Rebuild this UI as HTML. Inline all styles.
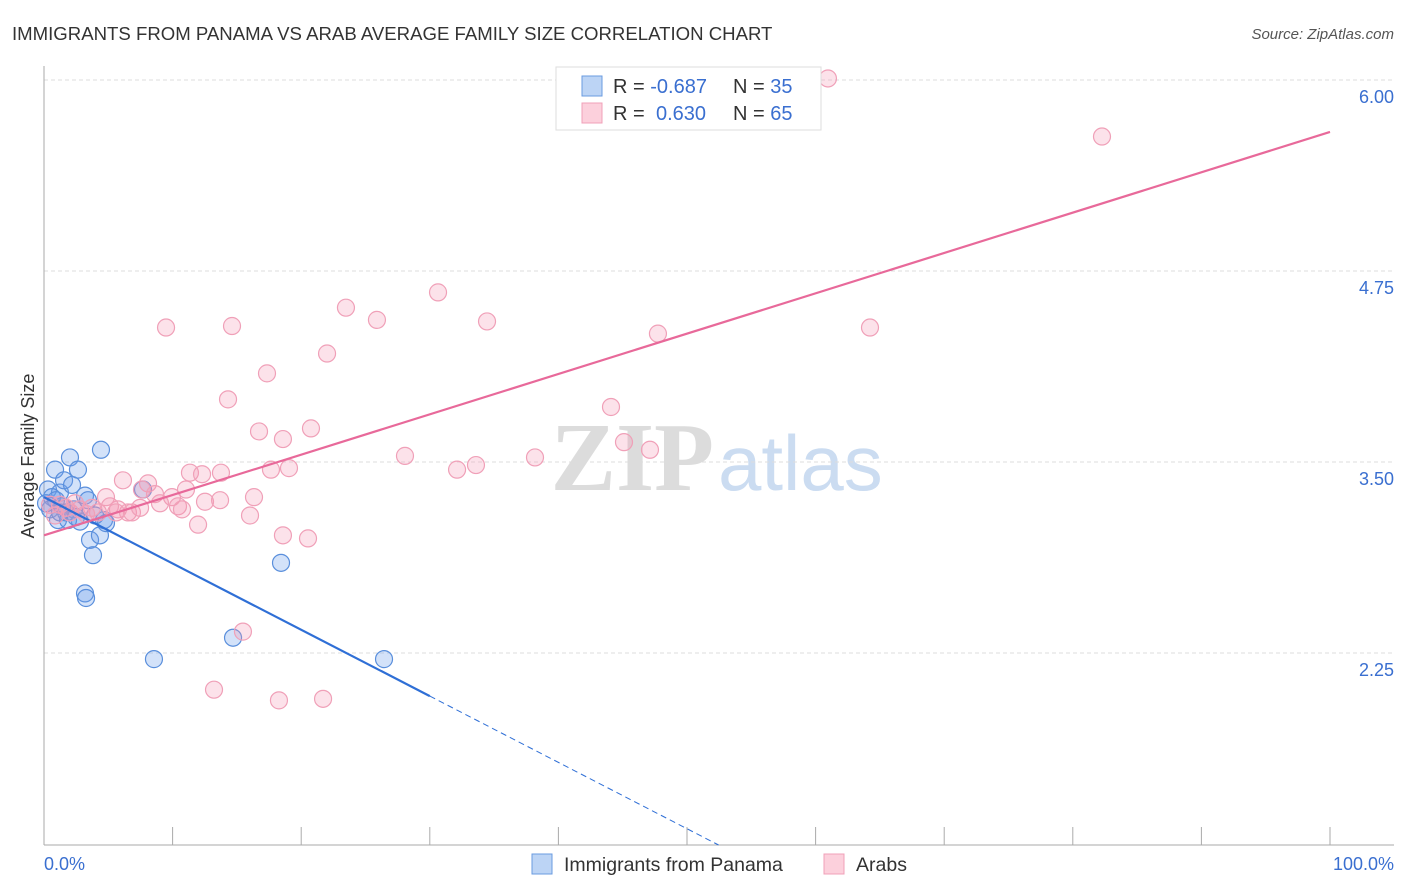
<!DOCTYPE html>
<html><head><meta charset="utf-8">
<style>
body{margin:0;background:#fff;font-family:"Liberation Sans",sans-serif;}
#wrap{position:relative;width:1406px;height:892px;overflow:hidden;}
</style></head>
<body>
<div id="wrap">
<svg id="svg" width="1406" height="892" xmlns="http://www.w3.org/2000/svg">
<text x="12" y="40" font-size="18.6" fill="#333">IMMIGRANTS FROM PANAMA VS ARAB AVERAGE FAMILY SIZE CORRELATION CHART</text>
<text x="1394" y="39" font-size="15" fill="#555" font-style="italic" text-anchor="end">Source: ZipAtlas.com</text>
<text x="714" y="490" font-size="98" fill="#dcdcdc" text-anchor="end" font-weight="bold" font-family="Liberation Serif,serif">ZIP</text>
<text x="718" y="490" font-size="78" fill="#cbdcf1">atlas</text>
<text transform="translate(34,456) rotate(-90)" font-size="18" fill="#333" text-anchor="middle">Average Family Size</text>
<g id="grid"></g><g id="axes"></g><g id="blue"></g><g id="pink"></g><g id="lines"></g>
<g>
<rect x="556" y="67" width="265" height="63" fill="#fff" stroke="#ddd"/>
<rect x="582" y="76" width="20" height="20" fill="#bcd4f5" stroke="#6a9be0"/>
<rect x="582" y="103" width="20" height="20" fill="#fcd0dc" stroke="#f0a0b8"/>
<text x="613" y="93" font-size="20" fill="#333">R = <tspan fill="#3a6fd0">-0.687</tspan><tspan x="733">N = </tspan><tspan fill="#3a6fd0">35</tspan></text>
<text x="613" y="120" font-size="20" fill="#333">R = <tspan fill="#3a6fd0" x="656">0.630</tspan><tspan x="733">N = </tspan><tspan fill="#3a6fd0">65</tspan></text>
</g>
<g>
<rect x="532" y="854" width="20" height="20" fill="#bcd4f5" stroke="#6a9be0"/>
<text x="564" y="871" font-size="19.5" fill="#333">Immigrants from Panama</text>
<rect x="824" y="854" width="20" height="20" fill="#fcd0dc" stroke="#f0a0b8"/>
<text x="856" y="871" font-size="19.5" fill="#333">Arabs</text>
</g>
</svg>
</div>
<script>
const yTicks=[6.00,4.75,3.50,2.25];
const xTickLabels=["0.0%","100.0%"];
const blueX=[0.31,0.86,1.24,1.40,1.56,2.02,2.18,2.64,2.80,3.19,3.42,3.58,3.81,3.19,3.27,4.35,4.43,4.67,4.82,7.70,8.55,14.70,18.43,26.44,0.62,1.09,1.71,2.33,0.47,0.93,1.87,2.49,0.16,1.24,3.97];
const blueY=[3.32,3.45,3.30,3.21,3.38,3.53,3.35,3.45,3.11,3.28,3.25,2.99,2.89,2.64,2.61,3.02,3.58,3.12,3.10,3.32,2.21,2.35,2.84,2.21,3.27,3.12,3.17,3.19,3.19,3.25,3.12,3.14,3.23,3.17,3.15];
const pinkX=[60.96,82.27,30.64,23.48,25.89,34.45,9.49,14.62,47.74,64.23,22.01,17.34,14.31,44.09,16.72,20.76,18.58,45.10,47.12,28.07,38.18,33.59,32.12,11.35,12.29,13.76,17.65,19.05,6.14,8.09,7.62,4.82,8.63,11.04,9.95,9.02,12.52,13.69,16.33,10.42,10.73,5.75,6.53,6.84,4.20,3.73,16.02,11.98,18.58,20.53,15.47,13.22,18.27,21.70,1.24,1.71,2.02,2.41,2.80,3.27,0.86,0.47,5.13,7.47,5.60];
const pinkY=[6.01,5.63,4.61,4.51,4.43,4.42,4.38,4.39,4.34,4.38,4.21,4.08,3.91,3.86,3.70,3.72,3.65,3.63,3.58,3.54,3.53,3.48,3.45,3.43,3.42,3.43,3.45,3.46,3.38,3.36,3.32,3.27,3.29,3.32,3.27,3.23,3.24,3.25,3.27,3.21,3.19,3.19,3.17,3.17,3.17,3.20,3.15,3.09,3.02,3.00,2.39,2.01,1.94,1.95,3.22,3.20,3.17,3.23,3.19,3.16,3.15,3.22,3.21,3.20,3.17];
const blueTrend=[3.27,-0.0434]; // intercept, slope per %
const blueSolidEnd=30;
const pinkTrend=[3.02,0.0264];

const NS="http://www.w3.org/2000/svg";
const X=p=>44+p*12.86;
const Y=v=>80+(6-v)*152.8;
function mk(t,a,parent){const e=document.createElementNS(NS,t);for(const k in a)e.setAttribute(k,a[k]);document.getElementById(parent).appendChild(e);return e;}
yTicks.forEach((t,i)=>{
  const l=mk('line',{x1:44,x2:1394,y1:Y(t),y2:Y(t),stroke:'#ddd','stroke-dasharray':'4,3'},'grid');
  
  
  const tx=mk('text',{x:1394,y:Y(t)+23,'font-size':18,fill:'#3a6fd0','text-anchor':'end'},'grid');
  tx.textContent=t.toFixed(2);
  
  
});
let a=mk('line',{x1:44,x2:44,y1:66,y2:845,stroke:'#aaa'},'axes');


a=mk('line',{x1:44,x2:1394,y1:845,y2:845,stroke:'#aaa'},'axes');


for(let i=0;i<=10;i++){
  const t=mk('line',{x1:X(i*10),x2:X(i*10),y1:827,y2:845,stroke:'#aaa'},'axes');
  
  
}
[[0,'start'],[100,'end']].forEach((d,i)=>{
  const t=mk('text',{x:i?1394:44,y:870,'font-size':18,fill:'#3a6fd0','text-anchor':d[1]},'axes');
  t.textContent=xTickLabels[i];
  
  
});
blueX.forEach((x,i)=>{
  const c=mk('circle',{cx:X(x),cy:Y(blueY[i]),r:8.5,fill:'rgba(110,160,235,0.3)',stroke:'#5a8fdc','stroke-width':1.2},'blue');
  
  
});
pinkX.forEach((x,i)=>{
  const c=mk('circle',{cx:X(x),cy:Y(pinkY[i]),r:8.5,fill:'rgba(245,150,180,0.28)',stroke:'#f0a0b8','stroke-width':1.2},'pink');
  
  
});
const bv=p=>blueTrend[0]+blueTrend[1]*p;
let ln=mk('line',{x1:X(0),y1:Y(bv(0)),x2:X(blueSolidEnd),y2:Y(bv(blueSolidEnd)),stroke:'#2f6fd6','stroke-width':2.2},'lines');


const endP=(blueTrend[0]-(6-765/152.8))/(-blueTrend[1]);
ln=mk('line',{x1:X(blueSolidEnd),y1:Y(bv(blueSolidEnd)),x2:X(endP),y2:Y(bv(endP)),stroke:'#2f6fd6','stroke-width':1,'stroke-dasharray':'6,4'},'lines');


const pv=p=>pinkTrend[0]+pinkTrend[1]*p;
ln=mk('line',{x1:X(0),y1:Y(pv(0)),x2:X(100),y2:Y(pv(100)),stroke:'#e8699a','stroke-width':2.2},'lines');


</script>
</body></html>
